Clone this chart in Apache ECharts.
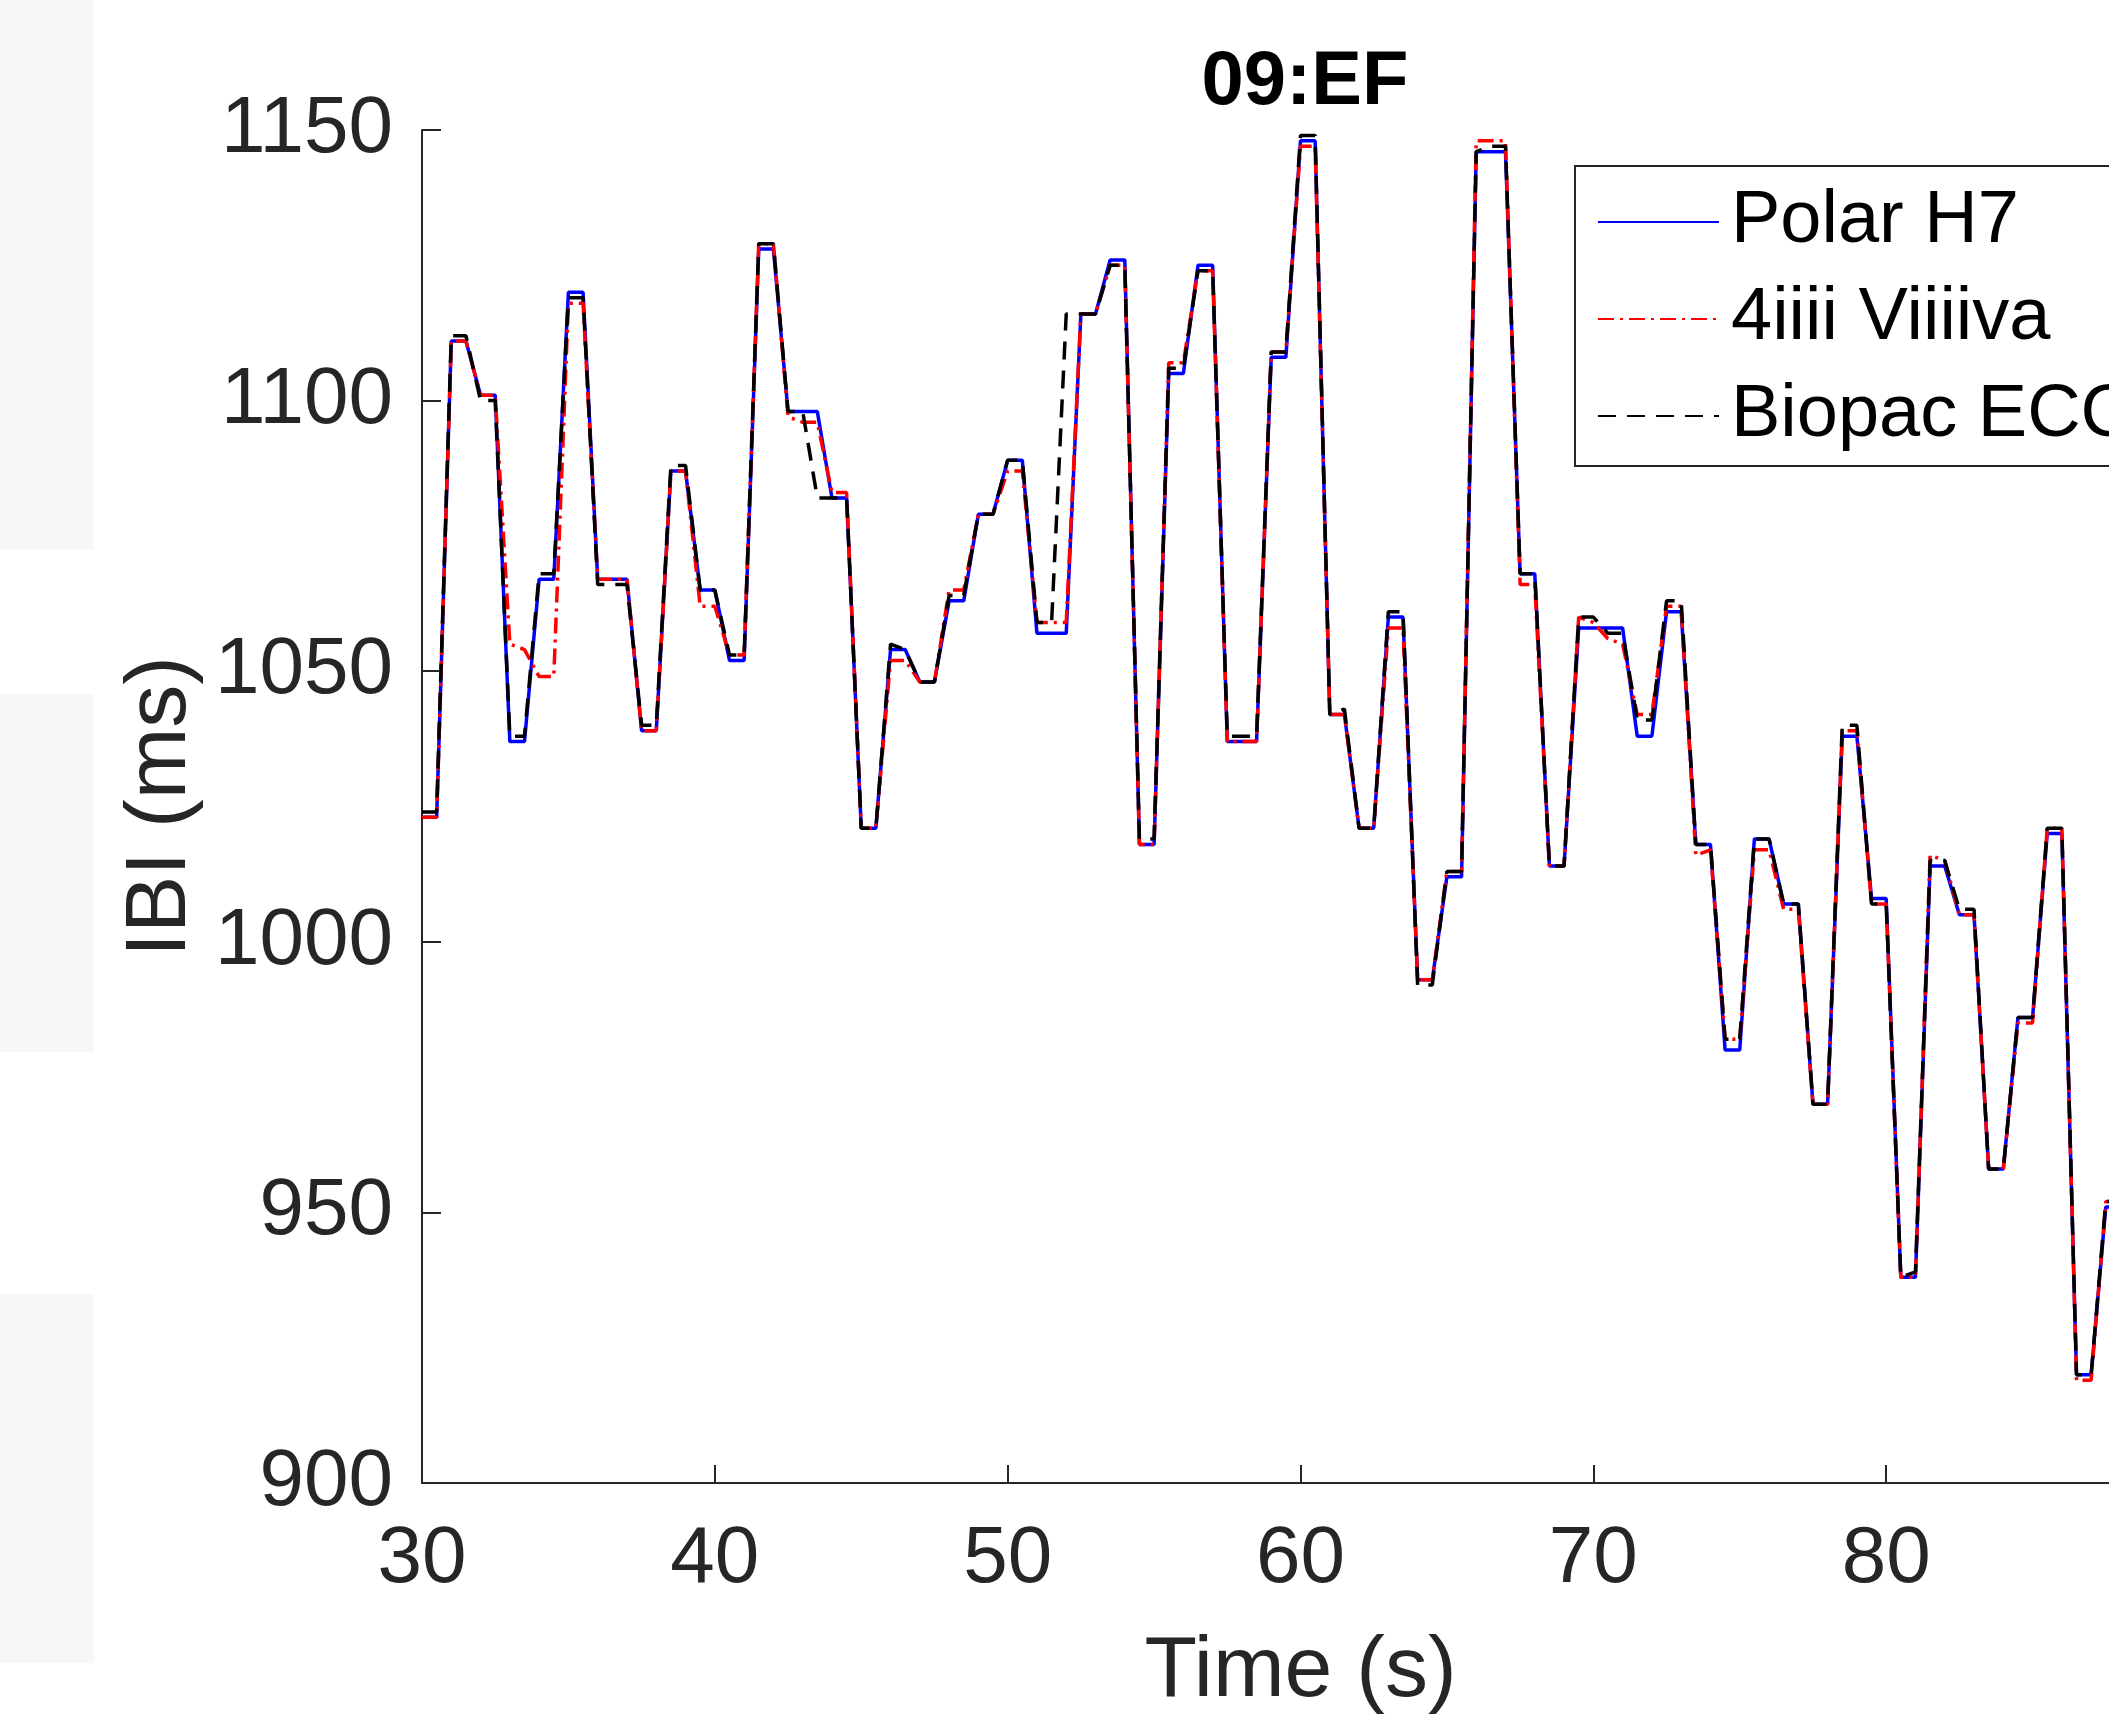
<!DOCTYPE html>
<html>
<head>
<meta charset="utf-8">
<script src="https://cdn.jsdelivr.net/npm/echarts@6/dist/echarts.min.js"></script>
<style>
html,body{margin:0;padding:0;background:#ffffff;}
#chart{width:2109px;height:1727px;}
</style>
</head>
<body>
<div id="chart"></div>
<script>
// Sample times (s)
const timeS = [
  30,30.5,31,31.5,32,32.5,33,33.5,34,34.5,35,35.5,36,36.5,37,37.5,38,38.5,39,39.5,
  40,40.5,41,41.5,42,42.5,43,43.5,44,44.5,45,45.5,46,46.5,47,47.5,48,48.5,49,49.5,
  50,50.5,51,51.5,52,52.5,53,53.5,54,54.5,55,55.5,56,56.5,57,57.5,58,58.5,59,59.5,
  60,60.5,61,61.5,62,62.5,63,63.5,64,64.5,65,65.5,66,66.5,67,67.5,68,68.5,69,69.5,
  70,70.5,71,71.5,72,72.5,73,73.5,74,74.5,75,75.5,76,76.5,77,77.5,78,78.5,79,79.5,
  80,80.5,81,81.5,82,82.5,83,83.5,84,84.5,85,85.5,86,86.5,87,87.5,88
];
// IBI (ms) per device
const polarH7 = [
  1023,1023,1111,1111,1101,1101,1037,1037,1067,1067,1120,1120,1067,1067,1067,1039,1039,1087,1087,1065,
  1065,1052,1052,1128,1128,1098,1098,1098,1082,1082,1021,1021,1054,1054,1048,1048,1063,1063,1079,1079,
  1089,1089,1057,1057,1057,1116,1116,1126,1126,1018,1018,1105,1105,1125,1125,1037,1037,1037,1108,1108,
  1148,1148,1042,1042,1021,1021,1060,1060,993,993,1012,1012,1146,1146,1146,1068,1068,1014,1014,1058,
  1058,1058,1058,1038,1038,1061,1061,1018,1018,980,980,1019,1019,1007,1007,970,970,1038,1038,1008,
  1008,938,938,1014,1014,1005,1005,958,958,986,986,1020,1020,920,920,951,951
];
const viiiiva = [
  1023,1023,1111,1111,1101,1101,1055,1054,1049,1049,1118,1118,1067,1067,1067,1039,1039,1087,1087,1062,
  1062,1053,1053,1129,1129,1097,1096,1096,1083,1083,1021,1021,1052,1052,1048,1048,1065,1065,1079,1079,
  1087,1087,1059,1059,1059,1116,1116,1125,1125,1018,1018,1107,1107,1124,1124,1037,1037,1037,1109,1109,
  1147,1147,1042,1042,1021,1021,1058,1058,993,993,1013,1013,1148,1148,1148,1066,1066,1014,1014,1060,
  1059,1056,1055,1042,1042,1062,1062,1016,1017,982,982,1017,1017,1006,1006,970,970,1039,1039,1007,
  1007,938,938,1016,1015,1005,1005,958,958,985,985,1021,1021,919,919,952,952
];
const biopacECG = [
  1024,1024,1112,1112,1100,1100,1038,1038,1068,1068,1119,1119,1066,1066,1066,1040,1040,1088,1088,1065,
  1065,1053,1053,1129,1129,1098,1098,1082,1082,1082,1021,1021,1055,1054,1048,1048,1064,1064,1079,1079,
  1089,1089,1059,1059,1116,1116,1116,1125,1125,1019,1019,1106,1106,1124,1124,1038,1038,1038,1109,1109,
  1149,1149,1042,1043,1021,1021,1061,1061,992,992,1013,1013,1146,1147,1147,1068,1068,1014,1014,1060,
  1060,1057,1057,1041,1041,1063,1063,1018,1018,982,982,1019,1019,1007,1007,970,970,1040,1040,1007,
  1007,938,939,1015,1015,1006,1006,958,958,986,986,1021,1021,920,920,952,952
];
const seriesNames = ['Polar H7', '4iiii Viiiiva', 'Biopac ECG'];
const chartTitle = '09:EF';
const xAxisName = 'Time (s)';
const yAxisName = 'IBI (ms)';

function pairs(vals){ return timeS.map((t,i)=>[t, vals[i]]); }

const FONT = '"Liberation Sans", Arial, Helvetica, sans-serif';
const AX = '#262626';

const chart = echarts.init(document.getElementById('chart'), null, {renderer:'canvas'});
chart.setOption({
  animation: false,
  backgroundColor: '#ffffff',
  title: {
    text: chartTitle,
    left: 1300, top: 40, textAlign: 'center',
    textStyle: {fontFamily: FONT, fontWeight: 'bold', fontSize: 76, color: '#000'}
  },
  graphic: [
    {type:'rect', z:-10, shape:{x:0,y:0,width:94,height:550}, style:{fill:'#f7f7f7'}},
    {type:'rect', z:-10, shape:{x:0,y:694,width:94,height:358}, style:{fill:'#f7f7f7'}},
    {type:'rect', z:-10, shape:{x:0,y:1294,width:94,height:369}, style:{fill:'#f7f7f7'}}
  ],
  legend: {
    orient: 'vertical',
    left: 1575, top: 166,
    padding: [16, 20, 10, 22],
    itemGap: 17,
    itemWidth: 121, itemHeight: 20,
    backgroundColor: '#ffffff',
    borderColor: AX, borderWidth: 2,
    itemStyle: {opacity: 0},
    textStyle: {fontFamily: FONT, fontSize: 74, color: '#000', lineHeight: 80, padding: [0,0,0,7]},
    data: seriesNames
  },
  grid: {left: 422, top: 130, width: 1757, height: 1353, containLabel: false, outerBoundsMode: 'none'},
  xAxis: {
    type: 'value', min: 30, max: 90, interval: 10,
    name: xAxisName, nameLocation: 'middle', nameGap: 146,
    nameTextStyle: {fontFamily: FONT, fontSize: 86, color: AX},
    axisLine: {show: true, lineStyle: {color: AX, width: 2}},
    axisTick: {show: true, inside: true, length: 18, lineStyle: {color: AX, width: 2}},
    axisLabel: {fontFamily: FONT, fontSize: 80, color: AX, margin: 37, formatter: v => String(v)},
    splitLine: {show: false}
  },
  yAxis: {
    type: 'value', min: 900, max: 1150, interval: 50,
    name: yAxisName, nameLocation: 'middle', nameGap: 196,
    nameTextStyle: {fontFamily: FONT, fontSize: 86, color: AX},
    axisLine: {show: true, lineStyle: {color: AX, width: 2}},
    axisTick: {show: true, inside: true, length: 19, lineStyle: {color: AX, width: 2}},
    axisLabel: {fontFamily: FONT, fontSize: 80, color: AX, margin: 29, formatter: v => String(v)},
    splitLine: {show: false}
  },
  series: [
    {name: seriesNames[0], type: 'line', data: pairs(polarH7), symbol: 'none',
     lineStyle: {color: '#0000ff', width: 3.5, type: 'solid'}, itemStyle: {color: '#0000ff'}},
    {name: seriesNames[1], type: 'line', data: pairs(viiiiva), symbol: 'none',
     lineStyle: {color: '#ff0000', width: 3.5, type: [16, 6, 3, 6]}, itemStyle: {color: '#ff0000'}},
    {name: seriesNames[2], type: 'line', data: pairs(biopacECG), symbol: 'none',
     lineStyle: {color: '#000000', width: 3.5, type: [18, 11]}, itemStyle: {color: '#000000'}}
  ]
});
</script>
</body>
</html>
